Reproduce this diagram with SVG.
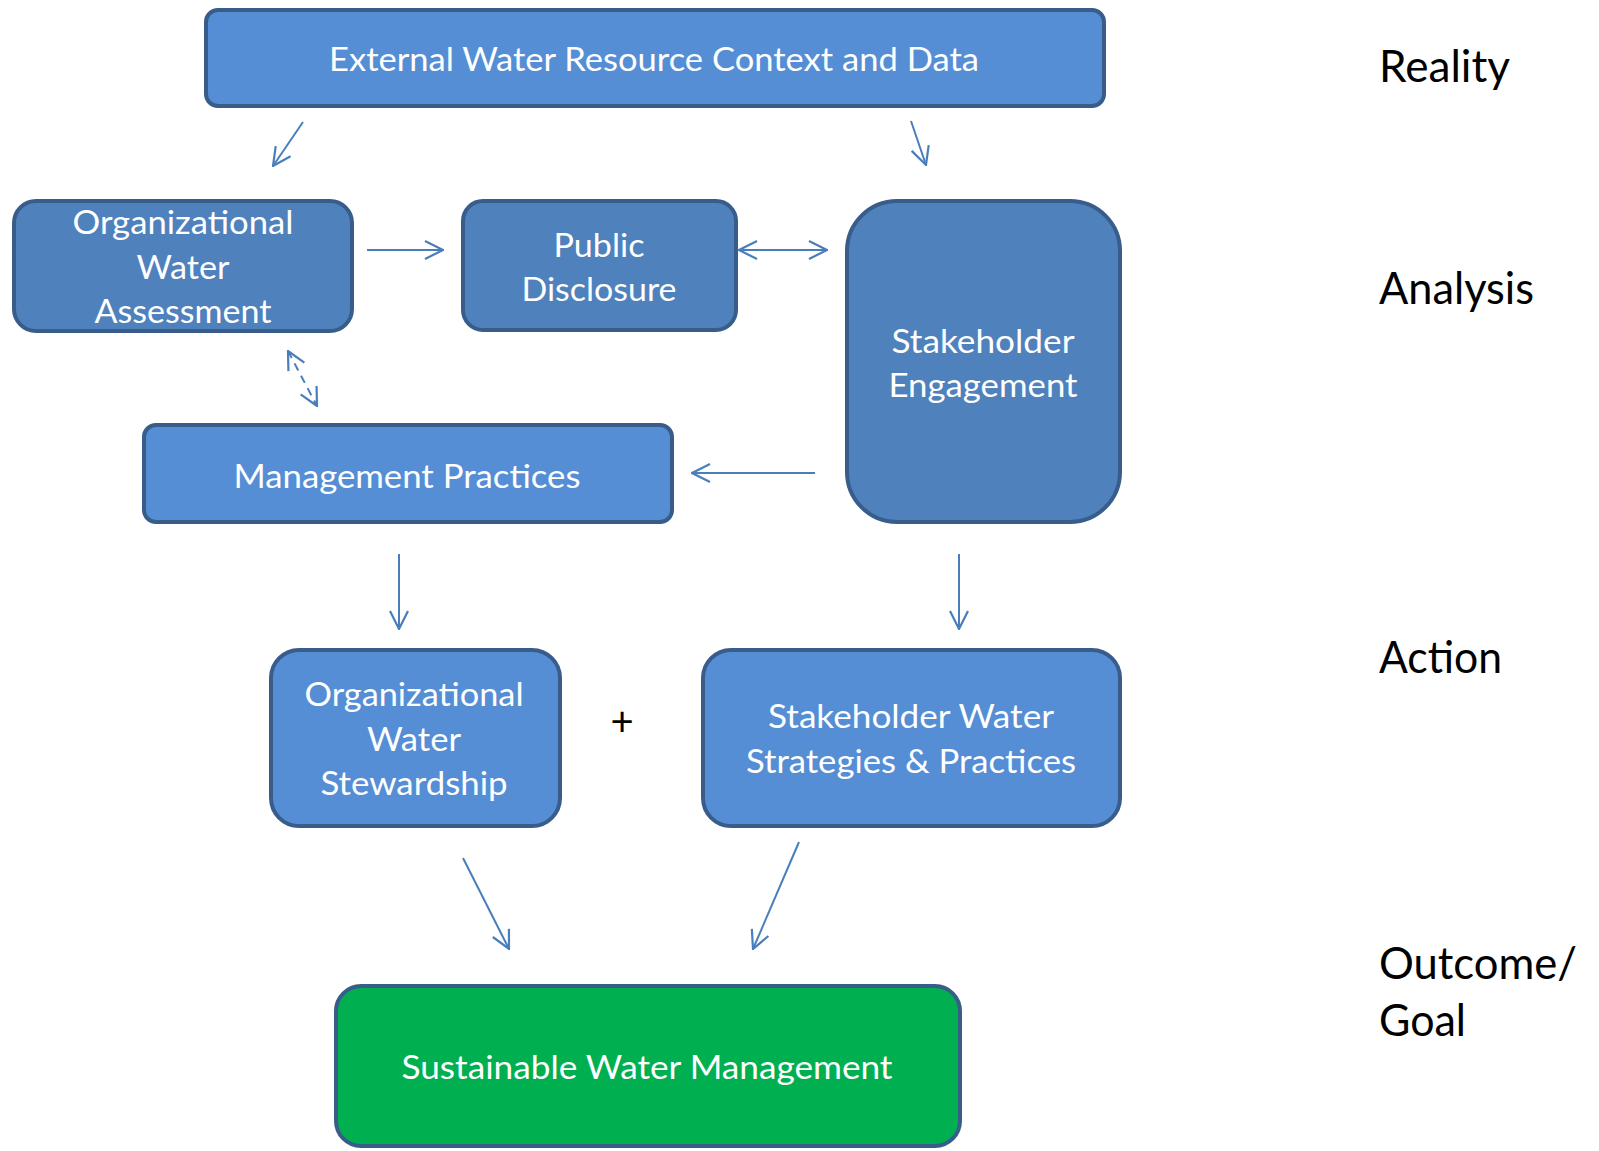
<svg xmlns="http://www.w3.org/2000/svg" width="1599" height="1151" viewBox="0 0 1599 1151">
<defs>
<style>
.box{stroke:#385D8A;stroke-width:4}
.l{fill:#558ED5}
.d{fill:#4F81BD}
.g{fill:#00B050}
.t{font-family:Lato,"Open Sans",sans-serif;font-size:32px;fill:#ffffff;text-anchor:middle}
.lab{font-family:Lato,"Open Sans",sans-serif;font-size:44px;fill:#000000}
.c{stroke:#4A7EBB;stroke-width:2;fill:none}
</style>
<marker id="ah" viewBox="0 0 20 20" refX="19" refY="10" markerWidth="20" markerHeight="20" markerUnits="userSpaceOnUse" orient="auto-start-reverse">
<path d="M1,1 L19,10 L1,19" fill="none" stroke="#4A7EBB" stroke-width="2.2"/>
</marker>
</defs>
<rect width="1599" height="1151" fill="#ffffff"/>
<g id="external">
<rect class="box l" x="206" y="10" width="898" height="96" rx="12"/>
<text class="t" x="654" y="71" textLength="650" lengthAdjust="spacingAndGlyphs">External Water Resource Context and Data</text>
</g>
<g id="org-assessment">
<rect class="box d" x="14" y="201" width="338" height="130" rx="22"/>
<text class="t" x="183" y="234" textLength="221" lengthAdjust="spacingAndGlyphs">Organizational</text>
<text class="t" x="183" y="279" textLength="93" lengthAdjust="spacingAndGlyphs">Water</text>
<text class="t" x="183" y="323" textLength="177" lengthAdjust="spacingAndGlyphs">Assessment</text>
</g>
<g id="public-disclosure">
<rect class="box d" x="463" y="201" width="273" height="129" rx="20"/>
<text class="t" x="599" y="257" textLength="91" lengthAdjust="spacingAndGlyphs">Public</text>
<text class="t" x="599" y="301" textLength="155" lengthAdjust="spacingAndGlyphs">Disclosure</text>
</g>
<g id="stakeholder-engagement">
<rect class="box d" x="847" y="201" width="273" height="321" rx="50"/>
<text class="t" x="983" y="353" textLength="183" lengthAdjust="spacingAndGlyphs">Stakeholder</text>
<text class="t" x="983" y="397" textLength="189" lengthAdjust="spacingAndGlyphs">Engagement</text>
</g>
<g id="management-practices">
<rect class="box l" x="144" y="425" width="528" height="97" rx="12"/>
<text class="t" x="407" y="488" textLength="347" lengthAdjust="spacingAndGlyphs">Management Practices</text>
</g>
<g id="org-stewardship">
<rect class="box l" x="271" y="650" width="289" height="176" rx="28"/>
<text class="t" x="414" y="706" textLength="219" lengthAdjust="spacingAndGlyphs">Organizational</text>
<text class="t" x="414" y="751" textLength="94" lengthAdjust="spacingAndGlyphs">Water</text>
<text class="t" x="414" y="795" textLength="187" lengthAdjust="spacingAndGlyphs">Stewardship</text>
</g>
<g id="plus">
<text x="622" y="736" font-family="Lato,'Open Sans',sans-serif" font-size="40" fill="#000000" text-anchor="middle">+</text>
</g>
<g id="stakeholder-strategies">
<rect class="box l" x="703" y="650" width="417" height="176" rx="28"/>
<text class="t" x="911" y="728" textLength="286" lengthAdjust="spacingAndGlyphs">Stakeholder Water</text>
<text class="t" x="911" y="773" textLength="330" lengthAdjust="spacingAndGlyphs">Strategies &amp; Practices</text>
</g>
<g id="sustainable">
<rect class="box g" x="336" y="986" width="624" height="160" rx="25"/>
<text class="t" x="647" y="1079" textLength="491" lengthAdjust="spacingAndGlyphs">Sustainable Water Management</text>
</g>
<g id="labels">
<text class="lab" x="1379" y="82" textLength="131" lengthAdjust="spacingAndGlyphs">Reality</text>
<text class="lab" x="1379" y="304" textLength="155" lengthAdjust="spacingAndGlyphs">Analysis</text>
<text class="lab" x="1379" y="673" textLength="123" lengthAdjust="spacingAndGlyphs">Action</text>
<text class="lab" x="1379" y="979" textLength="198" lengthAdjust="spacingAndGlyphs">Outcome/</text>
<text class="lab" x="1379" y="1036" textLength="87" lengthAdjust="spacingAndGlyphs">Goal</text>
</g>
<g id="connectors">
<line class="c" x1="303" y1="122" x2="273" y2="166" marker-end="url(#ah)"/>
<line class="c" x1="911" y1="121" x2="926" y2="165" marker-end="url(#ah)"/>
<line class="c" x1="367" y1="250" x2="443" y2="250" marker-end="url(#ah)"/>
<line class="c" x1="739" y1="250" x2="827" y2="250" marker-start="url(#ah)" marker-end="url(#ah)"/>
<line class="c" x1="288" y1="351" x2="317" y2="406" stroke-dasharray="8,6" marker-start="url(#ah)" marker-end="url(#ah)"/>
<line class="c" x1="815" y1="473" x2="692" y2="473" marker-end="url(#ah)"/>
<line class="c" x1="399" y1="554" x2="399" y2="629" marker-end="url(#ah)"/>
<line class="c" x1="959" y1="554" x2="959" y2="629" marker-end="url(#ah)"/>
<line class="c" x1="463" y1="858" x2="509" y2="949" marker-end="url(#ah)"/>
<line class="c" x1="799" y1="842" x2="753" y2="949" marker-end="url(#ah)"/>
</g>
</svg>
